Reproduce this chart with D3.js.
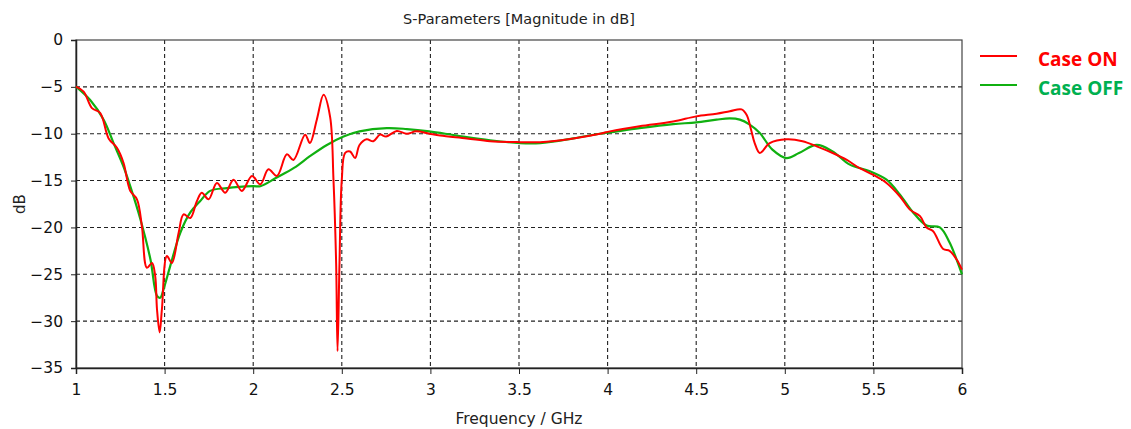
<!DOCTYPE html>
<html>
<head>
<meta charset="utf-8">
<script src="https://cdn.jsdelivr.net/npm/d3@7"></script>
<style>
  body { margin: 0; background: #fff; }
  svg { display: block; }
</style>
</head>
<body>
<script>
// Frequency (GHz) / magnitude (dB)
const onFreq = [1.0, 1.043, 1.09, 1.137, 1.184, 1.231, 1.268, 1.306, 1.344, 1.372, 1.40, 1.429, 1.447, 1.457, 1.472, 1.485, 1.513, 1.541, 1.579, 1.607, 1.645, 1.682, 1.71, 1.748, 1.795, 1.842, 1.889, 1.936, 1.993, 2.04, 2.086, 2.134, 2.19, 2.227, 2.293, 2.32, 2.359, 2.397, 2.434, 2.453, 2.468, 2.476, 2.487, 2.50, 2.519, 2.547, 2.575, 2.60, 2.64, 2.678, 2.716, 2.75, 2.81, 2.867, 2.92, 2.994, 3.055, 3.205, 3.337, 3.506, 3.619, 3.807, 3.957, 4.013, 4.18, 4.37, 4.50, 4.615, 4.69, 4.756, 4.785, 4.81, 4.83, 4.859, 4.915, 5.01, 5.10, 5.18, 5.27, 5.35, 5.42, 5.50, 5.574, 5.65, 5.706, 5.763, 5.80, 5.837, 5.894, 5.93, 5.969, 6.0];
const onDb = [-4.97, -5.5, -7.27, -7.8, -10.5, -11.5, -13.1, -16.1, -17.0, -19.9, -24.3, -23.8, -25.2, -28.7, -31.2, -28.7, -23.05, -23.8, -20.6, -18.6, -19.0, -17.2, -16.3, -17.0, -15.25, -16.3, -14.9, -16.1, -14.5, -15.4, -13.8, -14.5, -12.2, -12.8, -10.1, -11.0, -8.5, -5.85, -8.2, -14.9, -23.8, -33.2, -23.8, -14.9, -12.05, -11.9, -12.6, -11.2, -10.6, -10.8, -10.1, -10.3, -9.7, -10.0, -9.75, -10.0, -10.2, -10.5, -10.8, -10.9, -10.9, -10.5, -10.0, -9.75, -9.2, -8.7, -8.15, -7.87, -7.6, -7.4, -8.0, -9.6, -11.0, -12.06, -11.0, -10.6, -10.8, -11.35, -12.06, -12.8, -13.65, -14.4, -15.25, -16.7, -18.1, -18.8, -20.0, -20.4, -22.3, -22.5, -23.4, -24.5];

const offFreq = [1.0, 1.08, 1.156, 1.212, 1.268, 1.306, 1.363, 1.42, 1.457, 1.475, 1.494, 1.532, 1.588, 1.645, 1.70, 1.757, 1.852, 2.0, 2.04, 2.13, 2.23, 2.32, 2.416, 2.51, 2.60, 2.754, 2.867, 2.994, 3.149, 3.337, 3.506, 3.619, 3.807, 3.957, 4.013, 4.18, 4.37, 4.50, 4.615, 4.69, 4.746, 4.80, 4.859, 4.93, 5.01, 5.08, 5.18, 5.27, 5.367, 5.48, 5.574, 5.65, 5.724, 5.80, 5.875, 5.93, 5.969, 6.0];
const offDb = [-4.97, -6.4, -8.5, -11.0, -13.5, -15.6, -19.1, -23.4, -27.3, -27.5, -26.6, -24.1, -20.6, -18.4, -17.2, -16.1, -15.8, -15.6, -15.6, -14.7, -13.65, -12.4, -11.2, -10.3, -9.75, -9.4, -9.5, -9.75, -10.2, -10.7, -11.0, -11.0, -10.5, -10.0, -9.86, -9.4, -8.97, -8.8, -8.5, -8.37, -8.5, -9.0, -9.93, -11.7, -12.6, -12.06, -11.2, -11.9, -13.3, -14.0, -14.9, -16.5, -18.4, -19.8, -20.0, -21.6, -23.4, -25.0];

const xTicks = [1, 1.5, 2, 2.5, 3, 3.5, 4, 4.5, 5, 5.5, 6];
const yTicks = [0, -5, -10, -15, -20, -25, -30, -35];

const seriesNames = ["Case ON", "Case OFF"];
const seriesColors = ["#ff0000", "#10b010"];
const legendTextColors = ["#ff0000", "#00b050"];

const width = 1131, height = 429;
const margin = {left: 76, right: 169, top: 40, bottom: 61};

const svg = d3.select("body").append("svg")
    .attr("width", width)
    .attr("height", height);

const x = d3.scaleLinear().domain([1, 6]).range([margin.left, width - margin.right]);
const y = d3.scaleLinear().domain([-35, 0]).range([height - margin.bottom, margin.top]);

const font = "Tahoma, 'DejaVu Sans', sans-serif";

// grid
svg.append("g").selectAll("line")
    .data(xTicks.slice(1, -1))
    .enter().append("line")
    .attr("x1", d => x(d)).attr("x2", d => x(d))
    .attr("y1", y(0)).attr("y2", y(-35))
    .attr("stroke", "#222").attr("stroke-width", 1.1).attr("stroke-dasharray", "4,3");
svg.append("g").selectAll("line")
    .data(yTicks.slice(1, -1))
    .enter().append("line")
    .attr("x1", x(1)).attr("x2", x(6))
    .attr("y1", d => y(d)).attr("y2", d => y(d))
    .attr("stroke", "#222").attr("stroke-width", 1.1).attr("stroke-dasharray", "4,3");

// frame
svg.append("rect")
    .attr("x", x(1)).attr("y", y(0))
    .attr("width", x(6) - x(1)).attr("height", y(-35) - y(0))
    .attr("fill", "none").attr("stroke", "#444").attr("stroke-width", 1.2);

// axes
const xAxis = svg.append("g")
    .attr("transform", `translate(0,${y(-35)})`)
    .call(d3.axisBottom(x).tickValues(xTicks).tickFormat(d3.format("")).tickSize(6).tickPadding(10));
const yAxis = svg.append("g")
    .attr("transform", `translate(${x(1)},0)`)
    .call(d3.axisLeft(y).tickValues(yTicks).tickFormat(d3.format("")).tickSize(5).tickPadding(8));
[xAxis, yAxis].forEach(a => {
    a.select(".domain").attr("stroke", "#222").attr("stroke-width", 1.5);
    a.selectAll(".tick line").attr("stroke", "#222");
    a.selectAll("text").attr("font-family", font).attr("font-size", 15.5).attr("fill", "#111");
});

// lines
const line = d3.line()
    .x(d => x(d[0]))
    .y(d => y(d[1]))
    .curve(d3.curveCatmullRom.alpha(0.5));

const series = [d3.zip(onFreq, onDb), d3.zip(offFreq, offDb)];

svg.append("path")
    .datum(series[1])
    .attr("d", line)
    .attr("fill", "none")
    .attr("stroke", seriesColors[1])
    .attr("stroke-width", 2.2);
svg.append("path")
    .datum(series[0])
    .attr("d", line)
    .attr("fill", "none")
    .attr("stroke", seriesColors[0])
    .attr("stroke-width", 2);

// titles
svg.append("text")
    .attr("x", (x(1) + x(6)) / 2).attr("y", 24)
    .attr("text-anchor", "middle")
    .attr("font-family", font).attr("font-size", 14.5).attr("fill", "#222")
    .text("S-Parameters [Magnitude in dB]");
svg.append("text")
    .attr("x", (x(1) + x(6)) / 2).attr("y", 424)
    .attr("text-anchor", "middle")
    .attr("font-family", font).attr("font-size", 15.5).attr("fill", "#222")
    .text("Frequency / GHz");
svg.append("text")
    .attr("transform", `translate(25,${(y(0) + y(-35)) / 2}) rotate(-90)`)
    .attr("text-anchor", "middle")
    .attr("font-family", font).attr("font-size", 15).attr("fill", "#222")
    .text("dB");

// legend
const legend = svg.append("g");
seriesNames.forEach((name, i) => {
    const ly = 56 + i * 29;
    legend.append("line")
        .attr("x1", 980).attr("x2", 1017)
        .attr("y1", ly).attr("y2", ly)
        .attr("stroke", seriesColors[i]).attr("stroke-width", 2);
    legend.append("text")
        .attr("x", 1038).attr("y", ly + 10)
        .attr("font-family", "'Open Sans', sans-serif")
        .attr("font-weight", "bold").attr("font-size", 19)
        .attr("fill", legendTextColors[i])
        .text(name);
});
</script>
</body>
</html>
